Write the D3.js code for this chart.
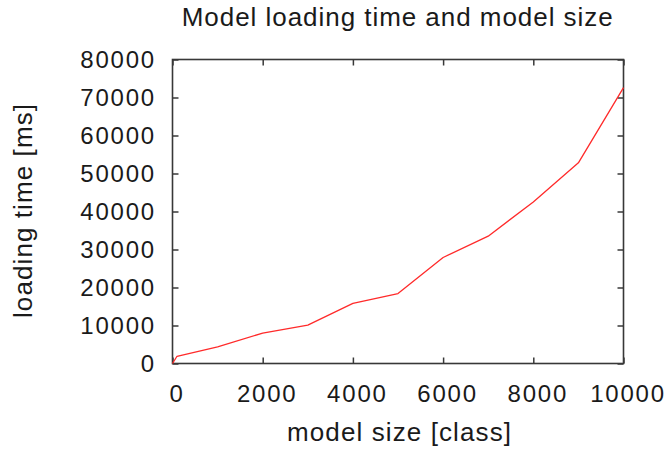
<!DOCTYPE html>
<html>
<head>
<meta charset="utf-8">
<script src="https://cdn.jsdelivr.net/npm/d3@7"></script>
<style>
  html, body { margin: 0; padding: 0; background: #fff; }
  svg { display: block; }
</style>
</head>
<body>
<svg id="chart" width="668" height="451"></svg>
<script>
// Model size (number of classes) against measured loading time in ms
const modelSize   = [0, 100, 1000, 2000, 3000, 4000, 5000, 6000, 7000, 8000, 9000, 10000];
const loadingTime = [0, 1900, 4400, 8000, 10100, 15800, 18400, 27900, 33500, 42500, 52800, 72600];
const xTicks = [0, 2000, 4000, 6000, 8000, 10000];
const yTicks = [0, 10000, 20000, 30000, 40000, 50000, 60000, 70000, 80000];

const titleText = "Model loading time and model size";
const xTitle = "model size [class]";
const yTitle = "loading time [ms]";

const svg = d3.select("#chart");
const W = 668, H = 451;
const plot = { left: 172.5, right: 623.5, top: 59.5, bottom: 363.5 };
const font = "'Liberation Sans', Arial, Helvetica, sans-serif";
const frameColor = "#383838";

svg.append("rect").attr("width", W).attr("height", H).attr("fill", "#fff");

const x = d3.scaleLinear().domain([0, 10000]).range([plot.left, plot.right]);
const y = d3.scaleLinear().domain([0, 80000]).range([plot.bottom, plot.top]);

function styleAxis(g, labels) {
  g.attr("font-family", font);
  g.select(".domain").remove();
  g.selectAll(".tick line").attr("stroke", frameColor).attr("stroke-width", 1.5);
  if (!labels) g.selectAll(".tick text").remove();
  else g.selectAll(".tick text")
        .attr("fill", "#1a1a1a")
        .attr("font-size", 24)
        .style("letter-spacing", "1.8px");
}

// Left axis with labels, ticks pointing inward
svg.append("g")
  .attr("transform", `translate(${plot.left},0)`)
  .call(d3.axisLeft(y).tickValues(yTicks).tickFormat(d3.format("d")).tickSize(-6).tickPadding(16.5))
  .call(g => styleAxis(g, true));

// Right mirror ticks
svg.append("g")
  .attr("transform", `translate(${plot.right},0)`)
  .call(d3.axisRight(y).tickValues(yTicks).tickSize(-6))
  .call(g => styleAxis(g, false));

// Bottom axis with labels
svg.append("g")
  .attr("transform", `translate(0,${plot.bottom})`)
  .call(d3.axisBottom(x).tickValues(xTicks).tickFormat(d3.format("d")).tickSize(-6))
  .call(g => {
    styleAxis(g, true);
    g.selectAll(".tick text").attr("y", 38.2).attr("dy", null).attr("dx", 4);
  });

// Top mirror ticks
svg.append("g")
  .attr("transform", `translate(0,${plot.top})`)
  .call(d3.axisTop(x).tickValues(xTicks).tickSize(-6))
  .call(g => styleAxis(g, false));

// Plot frame
svg.append("rect")
  .attr("x", plot.left).attr("y", plot.top)
  .attr("width", plot.right - plot.left).attr("height", plot.bottom - plot.top)
  .attr("fill", "none").attr("stroke", frameColor).attr("stroke-width", 1.6);

// Data line
const pts = modelSize.map((s, i) => [s, loadingTime[i]]);
svg.append("path")
  .datum(pts)
  .attr("fill", "none")
  .attr("stroke", "#ff2a2a")
  .attr("stroke-width", 1.3)
  .attr("stroke-linejoin", "round")
  .attr("d", d3.line().x(d => x(d[0])).y(d => y(d[1])));

// Title and axis titles
svg.append("text")
  .attr("x", 397.2).attr("y", 26)
  .attr("text-anchor", "middle")
  .attr("font-family", font).attr("font-size", 26).attr("fill", "#1a1a1a")
  .attr("textLength", 431).attr("lengthAdjust", "spacing")
  .text(titleText);

svg.append("text")
  .attr("x", 399).attr("y", 441)
  .attr("text-anchor", "middle")
  .attr("font-family", font).attr("font-size", 26).attr("fill", "#1a1a1a")
  .attr("textLength", 224).attr("lengthAdjust", "spacing")
  .text(xTitle);

svg.append("text")
  .attr("transform", "translate(32,211) rotate(-90)")
  .attr("text-anchor", "middle")
  .attr("font-family", font).attr("font-size", 26).attr("fill", "#1a1a1a")
  .attr("textLength", 214).attr("lengthAdjust", "spacing")
  .text(yTitle);
</script>
</body>
</html>
